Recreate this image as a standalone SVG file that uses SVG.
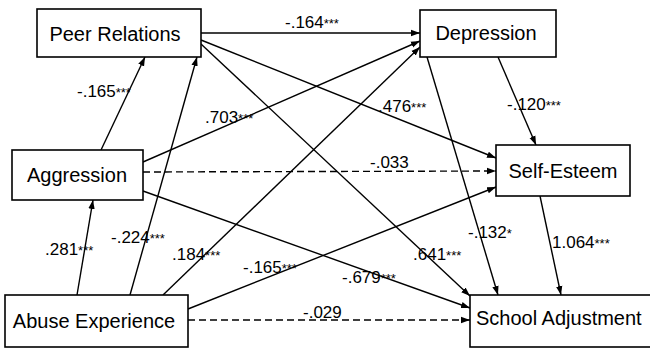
<svg xmlns="http://www.w3.org/2000/svg" width="650" height="348" viewBox="0 0 650 348">
<style>
.box{fill:#fff;stroke:#000;stroke-width:1.6}
.nt{font-family:"Liberation Sans",Arial,sans-serif;font-size:20px;fill:#000}
.e{stroke:#000;stroke-width:1.4;fill:none;marker-end:url(#ah)}
.d{stroke-dasharray:7,4}
.lb{font-family:"Liberation Sans",Arial,sans-serif;font-size:17px;fill:#000}
.st{font-size:13px}
</style>
<defs>
<marker id="ah" markerUnits="userSpaceOnUse" markerWidth="10" markerHeight="8" refX="9" refY="4" orient="auto">
<path d="M0,0.8 L9,4 L0,7.2 Z" fill="#000"/>
</marker>
</defs>
<rect width="650" height="348" fill="#fff"/>
<g id="connectors">
<line class="e" x1="201" y1="33" x2="420" y2="33"/>
<line class="e" x1="201" y1="40" x2="496" y2="158"/>
<line class="e" x1="201" y1="44" x2="470" y2="296"/>
<line class="e" x1="101" y1="150" x2="145" y2="57"/>
<line class="e" x1="143" y1="162" x2="420" y2="41"/>
<line class="e d" x1="143" y1="172" x2="496" y2="171"/>
<line class="e" x1="143" y1="191" x2="470" y2="308"/>
<line class="e" x1="77" y1="295" x2="93" y2="200"/>
<line class="e" x1="130" y1="295" x2="197" y2="57"/>
<line class="e" x1="163" y1="295" x2="420" y2="47"/>
<line class="e" x1="188" y1="309" x2="496" y2="187"/>
<line class="e d" x1="188" y1="320" x2="470" y2="320"/>
<line class="e" x1="498" y1="57" x2="536" y2="145"/>
<line class="e" x1="427" y1="57" x2="498" y2="295"/>
<line class="e" x1="540" y1="196" x2="561" y2="295"/>
</g>
<g id="labels">
<text class="lb" x="285" y="28">-.164<tspan class="st">***</tspan></text>
<text class="lb" x="77" y="97">-.165<tspan class="st">***</tspan></text>
<text class="lb" x="205" y="123">.703<tspan class="st">***</tspan></text>
<text class="lb" x="378" y="112">.476<tspan class="st">***</tspan></text>
<text class="lb" x="370" y="168">-.033</text>
<text class="lb" x="507" y="110">-.120<tspan class="st">***</tspan></text>
<text class="lb" x="45" y="255">.281<tspan class="st">***</tspan></text>
<text class="lb" x="111" y="243">-.224<tspan class="st">***</tspan></text>
<text class="lb" x="172" y="260">.184<tspan class="st">***</tspan></text>
<text class="lb" x="243" y="273">-.165<tspan class="st">***</tspan></text>
<text class="lb" x="342" y="283">-.679<tspan class="st">***</tspan></text>
<text class="lb" x="413" y="260">.641<tspan class="st">***</tspan></text>
<text class="lb" x="303" y="318">-.029</text>
<text class="lb" x="468" y="238">-.132<tspan class="st">*</tspan></text>
<text class="lb" x="552" y="248">1.064<tspan class="st">***</tspan></text>
</g>
<g id="peer">
<rect class="box" x="37" y="9" width="164" height="48"/>
<text class="nt" x="115" y="41" text-anchor="middle">Peer Relations</text>
</g>
<g id="depression">
<rect class="box" x="420" y="10" width="136" height="47"/>
<text class="nt" x="486" y="40" text-anchor="middle">Depression</text>
</g>
<g id="selfesteem">
<rect class="box" x="496" y="145" width="134" height="51"/>
<text class="nt" x="563" y="178" text-anchor="middle">Self-Esteem</text>
</g>
<g id="aggression">
<rect class="box" x="12" y="150" width="131" height="50"/>
<text class="nt" x="77" y="182" text-anchor="middle">Aggression</text>
</g>
<g id="abuse">
<rect class="box" x="5" y="295" width="183" height="52"/>
<text class="nt" x="94" y="328" text-anchor="middle">Abuse Experience</text>
</g>
<g id="school">
<rect class="box" x="470" y="295" width="185" height="52"/>
<text class="nt" x="476" y="325">School Adjustment</text>
</g>
</svg>
